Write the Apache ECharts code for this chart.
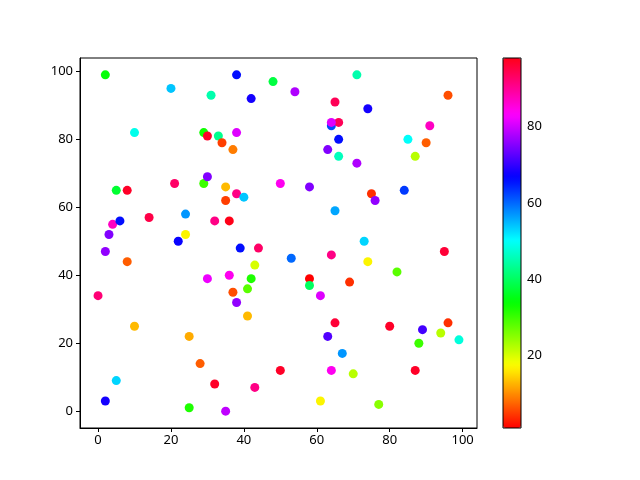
<!DOCTYPE html>
<html>
<head>
<meta charset="utf-8">
<script src="https://cdn.jsdelivr.net/npm/echarts@6/dist/echarts.min.js"></script>
<style>
  html, body { margin: 0; padding: 0; background: #fff; }
  #chart { width: 640px; height: 480px; }
</style>
</head>
<body>
<div id="chart"></div>
<script>
// scatter values: x, y and the colour value
const xs = [2, 20, 31, 10, 29, 30, 33, 34, 37, 38, 48, 42, 54, 65, 64, 66, 64, 66, 63, 66,
  71, 74, 96, 91, 85, 90, 87, 71, 75, 76, 84, 65, 58, 50, 38, 40, 29, 30, 21, 5,
  8, 35, 35, 36, 32, 24, 14, 4, 6, 3, 24, 22, 2, 8, 39, 44, 43, 42, 41, 36,
  37, 38, 30, 41, 53, 58, 58, 61, 64, 69, 73, 74, 82, 95, 0, 10, 25, 28, 5, 2,
  25, 32, 35, 43, 50, 61, 64, 63, 65, 67, 70, 77, 80, 87, 88, 89, 94, 96, 99, 38]
const ys = [99, 95, 93, 82, 82, 81, 81, 79, 77, 99, 97, 92, 94, 91, 84, 85, 85, 80, 77, 75,
  99, 89, 93, 84, 80, 79, 75, 73, 64, 62, 65, 59, 66, 67, 64, 63, 67, 69, 67, 65,
  65, 66, 62, 56, 56, 58, 57, 55, 56, 52, 52, 50, 47, 44, 48, 48, 43, 39, 36, 40,
  35, 32, 39, 28, 45, 39, 37, 34, 46, 38, 50, 44, 41, 47, 34, 25, 22, 14, 9, 3,
  1, 8, 0, 7, 12, 3, 12, 22, 26, 17, 11, 2, 25, 12, 20, 24, 23, 26, 21, 82]
const cs = [34, 54, 45, 49, 33, 97, 43, 5, 9, 66, 38, 68, 78, 94, 62, 94, 81, 66, 75, 46,
  45, 68, 6, 87, 50, 7, 22, 78, 4, 76, 63, 56, 75, 84, 91, 54, 30, 75, 93, 37,
  97, 13, 5, 98, 91, 57, 95, 87, 66, 75, 17, 67, 76, 7, 66, 93, 20, 32, 28, 84,
  6, 76, 82, 13, 60, 1, 40, 81, 91, 4, 53, 17, 28, 96, 92, 13, 12, 7, 53, 68,
  32, 97, 79, 91, 97, 17, 84, 72, 96, 57, 22, 25, 97, 97, 30, 71, 22, 4, 48, 81]

const xTicks = [0, 20, 40, 60, 80, 100]
const yTicks = [0, 20, 40, 60, 80, 100]
const cTicks = [20, 40, 60, 80]
const cMin = 1
const cMax = 98

// matplotlib "hsv" colormap, sampled into a list for the visualMap
const hsvStops = [
  [0, [1, 0, 0]], [0.15873, [1, 0.9375, 0]], [0.174603, [0.96875, 1, 0]],
  [0.333333, [0.03125, 1, 0]], [0.349206, [0, 1, 0.0625]], [0.507937, [0, 1, 1]],
  [0.666667, [0, 0.0625, 1]], [0.68254, [0.03125, 0, 1]], [0.84127, [0.96875, 0, 1]],
  [0.857143, [1, 0, 0.9375]], [1, [1, 0, 0.09375]],
]
function hsvAt(t) {
  for (let i = 1; i < hsvStops.length; i++) {
    const [p1, c1] = hsvStops[i]
    const [p0, c0] = hsvStops[i - 1]
    if (t <= p1) {
      const f = (t - p0) / (p1 - p0)
      const c = c0.map((v, k) => Math.round(255 * (v + (c1[k] - v) * f)))
      return 'rgb(' + c.join(',') + ')'
    }
  }
  return 'rgb(255,0,24)'
}
const palette = []
for (let i = 0; i <= 128; i++) palette.push(hsvAt(i / 128))

const points = xs.map((x, i) => [x, ys[i], cs[i]])

const font = { color: '#000', fontSize: 13, fontFamily: 'Noto Sans' }
const chart = echarts.init(document.getElementById('chart'), null, { renderer: 'canvas' })
chart.setOption({
  animation: false,
  backgroundColor: '#fff',
  grid: [
    { left: 80, top: 58, width: 397, height: 370, show: true, borderColor: '#000', borderWidth: 1, backgroundColor: 'transparent' },
    { left: 503, top: 58, width: 18, height: 370, show: true, borderColor: '#000', borderWidth: 1, backgroundColor: 'transparent', z: 10 },
  ],
  xAxis: [
    {
      type: 'value', gridIndex: 0, min: -4.95, max: 103.95,
      axisLine: { show: true, onZero: false, lineStyle: { color: '#000', width: 1 } },
      axisTick: { show: true, length: 4, customValues: xTicks, lineStyle: { color: '#000' } },
      axisLabel: { ...font, margin: 6, customValues: xTicks },
      splitLine: { show: false },
    },
    { type: 'value', gridIndex: 1, show: false, min: 0, max: 1 },
  ],
  yAxis: [
    {
      type: 'value', gridIndex: 0, min: -4.95, max: 103.95,
      axisLine: { show: true, onZero: false, lineStyle: { color: '#000', width: 1 } },
      axisTick: { show: true, length: 4, customValues: yTicks, lineStyle: { color: '#000' } },
      axisLabel: { ...font, margin: 7, customValues: yTicks },
      splitLine: { show: false },
    },
    {
      type: 'value', gridIndex: 1, position: 'right', min: cMin, max: cMax,
      axisLine: { show: false },
      axisTick: { show: true, length: 4, customValues: cTicks, lineStyle: { color: '#000' } },
      axisLabel: { ...font, margin: 6, customValues: cTicks },
      splitLine: { show: false },
    },
  ],
  visualMap: {
    type: 'continuous',
    seriesIndex: 0,
    dimension: 2,
    min: cMin,
    max: cMax,
    left: 503,
    top: 58,
    itemWidth: 18,
    itemHeight: 370,
    padding: 0,
    calculable: false,
    hoverLink: false,
    text: null,
    inRange: { color: palette },
  },
  series: [{
    type: 'scatter',
    xAxisIndex: 0,
    yAxisIndex: 0,
    data: points,
    symbolSize: 9,
    itemStyle: { opacity: 1 },
  }],
})
</script>
</body>
</html>
